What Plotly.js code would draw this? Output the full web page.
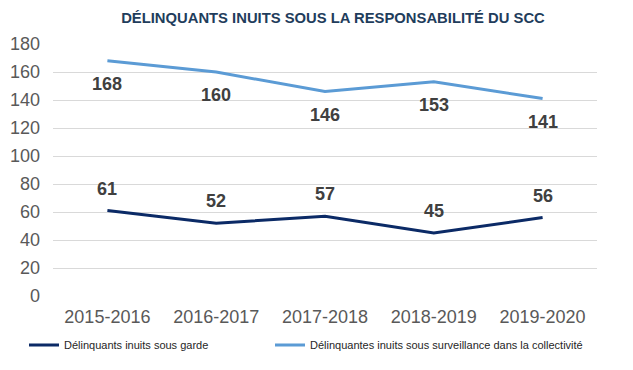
<!DOCTYPE html>
<html>
<head>
<meta charset="utf-8">
<script src="https://cdn.plot.ly/plotly-3.0.1.min.js"></script>
<style>html,body{margin:0;padding:0;background:#fff;}#chart{width:633px;height:370px;}</style>
</head>
<body>
<div id="chart"></div>
<script>
const categories = ["2015-2016", "2016-2017", "2017-2018", "2018-2019", "2019-2020"];
const custodyValues = [61, 52, 57, 45, 56];
const communityValues = [168, 160, 146, 153, 141];
const custodyName = "Délinquants inuits sous garde";
const communityName = "Délinquantes inuits sous surveillance dans la collectivité";
const chartTitle = "DÉLINQUANTS INUITS SOUS LA RESPONSABILITÉ DU SCC";

const navy = "#0b2a66";
const lightBlue = "#5b9bd5";
const labelColor = "#404040";
const baseFont = "Liberation Sans, Arial, sans-serif";

const traces = [
  {x: categories, y: custodyValues, name: custodyName, type: "scatter", mode: "lines",
   line: {color: navy, width: 3}, hoverinfo: "skip", legend: "legend"},
  {x: categories, y: communityValues, name: communityName, type: "scatter", mode: "lines",
   line: {color: lightBlue, width: 3}, hoverinfo: "skip", legend: "legend2"}
];

const annotations = [];
categories.forEach((c, i) => {
  annotations.push({x: c, y: custodyValues[i], text: String(custodyValues[i]), showarrow: false,
    yshift: 22, font: {family: baseFont, size: 18, color: labelColor, weight: "bold"}});
  annotations.push({x: c, y: communityValues[i], text: String(communityValues[i]), showarrow: false,
    yshift: -23, font: {family: baseFont, size: 18, color: labelColor, weight: "bold"}});
});

const legendBase = {orientation: "h", xref: "container", yref: "container",
  y: 1 - 345/370, xanchor: "left", yanchor: "middle", itemwidth: 30,
  font: {family: baseFont, size: 11, color: "#262626"}, bgcolor: "rgba(0,0,0,0)"};

const layout = {
  width: 633, height: 370,
  margin: {l: 53, r: 36, t: 44, b: 74},
  paper_bgcolor: "#ffffff", plot_bgcolor: "#ffffff",
  font: {family: baseFont, color: "#595959"},
  title: {text: "<b>" + chartTitle + "</b>", x: 0.526, xref: "container", xanchor: "center",
    y: 1 - 18/370, yref: "container", yanchor: "middle",
    font: {family: baseFont, size: 14.8, color: "#1f3d5c"}},
  xaxis: {type: "category", range: [-0.5, 4.5], showgrid: false, zeroline: false, showline: false, ticks: "",
    tickfont: {size: 18, color: "#595959"}, ticklabelstandoff: 8},
  yaxis: {range: [0, 180], dtick: 20, showgrid: true, gridcolor: "#d9d9d9", gridwidth: 1,
    zeroline: false, showline: false, ticks: "", tickfont: {size: 18, color: "#595959"},
    ticklabelstandoff: 12},
  showlegend: true,
  legend: Object.assign({}, legendBase, {x: 24/633}),
  legend2: Object.assign({}, legendBase, {x: 270/633}),
  annotations: annotations
};

Plotly.newPlot("chart", traces, layout, {displayModeBar: false, staticPlot: true});
</script>
</body>
</html>
